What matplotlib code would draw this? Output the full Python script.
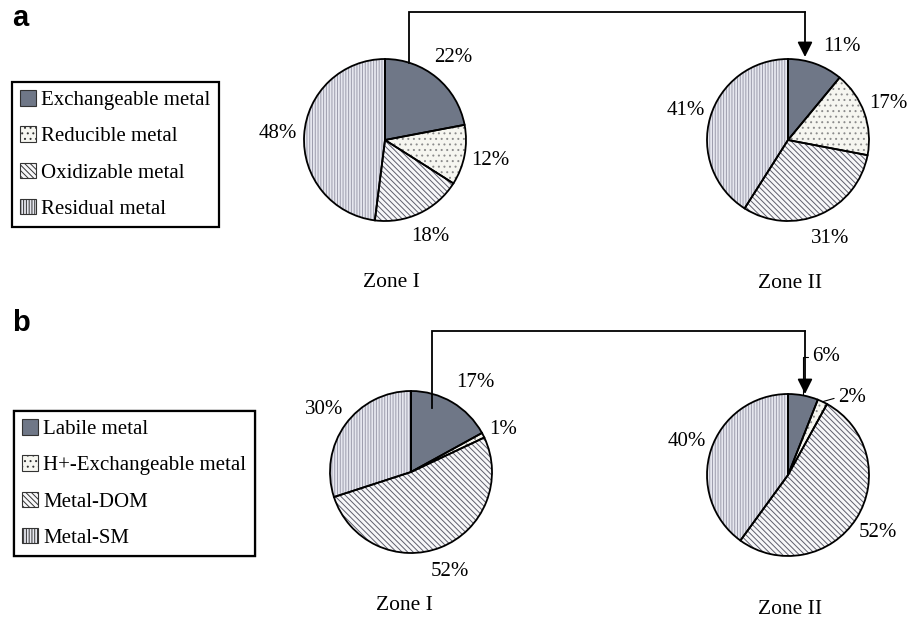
import matplotlib
matplotlib.use("Agg")
import numpy as np
import matplotlib.pyplot as plt
from matplotlib.patches import Patch

# fractions (%) for each zone, clockwise from 12 o'clock
labels_a = ["Exchangeable metal", "Reducible metal", "Oxidizable metal", "Residual metal"]
zone1_a = [22, 12, 18, 48]
zone2_a = [11, 17, 31, 41]

labels_b = ["Labile metal", "H+-Exchangeable metal", "Metal-DOM", "Metal-SM"]
zone1_b = [17, 1, 52, 30]
zone2_b = [6, 2, 52, 40]

zone_names = ["Zone I", "Zone II"]

# fill styles shared by both panels
faces = ["#6f7787", "#f6f6f0", "#f7f7f9", "#e6e7ef"]
hatch_cols = ["#6f7787", "#8c8c8c", "#5e5e6c", "#9c9cac"]
hatches = [None, "...", "\\\\\\\\\\\\", "||||||"]

W, H = 921, 624
DPI = 100
R_PX = 81          # pie radius in pixels
LIM = 1.6          # axes half-width in pie radii

plt.rcParams["font.family"] = ["Liberation Serif", "DejaVu Serif"]
plt.rcParams["hatch.linewidth"] = 0.7

fig = plt.figure(figsize=(W / DPI, H / DPI), dpi=DPI)


def fx(x):
    return x / W


def fy(y):
    return 1 - y / H


def draw_pie(cx, cy, values, moved=None, leaders=None):
    """Pie centred at pixel (cx, cy); labels sit outside on the wedge bisector
    unless moved (plain text) or given a leader line."""
    half = LIM * R_PX
    ax = fig.add_axes([fx(cx - half), fy(cy + half), 2 * half / W, 2 * half / H])
    wedges, _ = ax.pie(values, startangle=90, counterclock=False, radius=1,
                       wedgeprops=dict(linewidth=0))
    for w, fc, hc, h in zip(wedges, faces, hatch_cols, hatches):
        w.set_facecolor(fc)
        w.set_edgecolor(hc)
        if h:
            w.set_hatch(h)
    # black outlines on top of the hatched fills
    ax.pie(values, startangle=90, counterclock=False, radius=1,
           colors=["none"] * len(values),
           wedgeprops=dict(edgecolor="black", linewidth=1.3, fill=False))
    moved = moved or {}
    leaders = leaders or {}
    for i, (w, v) in enumerate(zip(wedges, values)):
        mid = np.deg2rad((w.theta1 + w.theta2) / 2)
        txt = f"{v}%"
        if i in leaders:
            tx, ty, style = leaders[i]
            ax.annotate(txt, xy=(np.cos(mid), np.sin(mid)), xytext=(tx, ty),
                        ha="left", va="center", fontsize=15, annotation_clip=False,
                        arrowprops=dict(arrowstyle="-", lw=0.8, color="black",
                                        shrinkA=1, shrinkB=0, relpos=(0, 0.5),
                                        connectionstyle=style))
        else:
            d = 1.32
            tx, ty = moved.get(i, (d * np.cos(mid), d * np.sin(mid)))
            ax.text(tx, ty, txt, ha="center", va="center", fontsize=15, clip_on=False)
    ax.set_xlim(-LIM, LIM)
    ax.set_ylim(-LIM, LIM)
    ax.set_aspect("equal")
    ax.axis("off")
    return ax


draw_pie(385, 140, zone1_a)
draw_pie(788, 140, zone2_a, moved={0: (0.67, 1.15)})
draw_pie(411, 472, zone1_b, moved={0: (0.79, 1.10), 1: (1.14, 0.52)})
draw_pie(788, 475, zone2_b,
         leaders={0: (0.3, 1.46, "angle,angleA=0,angleB=90,rad=0"),
                  1: (0.62, 0.96, "arc3")})

# zone captions
for x, y, name in [(391, 283, zone_names[0]), (790, 284, zone_names[1]),
                   (404, 606, zone_names[0]), (790, 609, zone_names[1])]:
    fig.text(fx(x), fy(y), name, ha="center", va="center", fontsize=15.5)

# panel letters
fig.text(fx(12), fy(18), "a", fontsize=21, fontweight="bold",
         family="Liberation Sans", va="center", ha="left")
fig.text(fx(12), fy(323), "b", fontsize=21, fontweight="bold",
         family="Liberation Sans", va="center", ha="left")

# overlay for connector arrows and legends
ov = fig.add_axes([0, 0, 1, 1], zorder=5)
ov.set_xlim(0, W)
ov.set_ylim(H, 0)
ov.axis("off")

for x0, y0, ytop, x1, y1 in [(409, 63, 12, 805, 57), (432, 408, 331, 805, 394)]:
    ov.plot([x0, x0, x1], [y0, ytop, ytop], color="black", lw=1.3,
            solid_joinstyle="miter")
    ov.annotate("", xy=(x1, y1), xytext=(x1, ytop),
                arrowprops=dict(arrowstyle="-|>,head_length=0.9,head_width=0.45",
                                color="black", lw=1.3, shrinkA=0, shrinkB=0))


def make_handles(names):
    return [Patch(facecolor=fc, edgecolor="#333333", hatch=h, linewidth=0.8, label=n)
            for n, fc, h in zip(names, faces, hatches)]


for names, (lx, ly) in [(labels_a, (12, 82)), (labels_b, (14, 411))]:
    leg = ov.legend(handles=make_handles(names), loc="upper left",
                    bbox_to_anchor=(fx(lx), fy(ly)), bbox_transform=fig.transFigure,
                    borderaxespad=0, fontsize=15, frameon=True, fancybox=False,
                    edgecolor="black", framealpha=1, handlelength=0.75,
                    handleheight=0.75, handletextpad=0.25, labelspacing=0.78,
                    borderpad=0.4)
    leg.get_frame().set_linewidth(1.6)
    ov.add_artist(leg)

fig.savefig("out.png", dpi=DPI)
